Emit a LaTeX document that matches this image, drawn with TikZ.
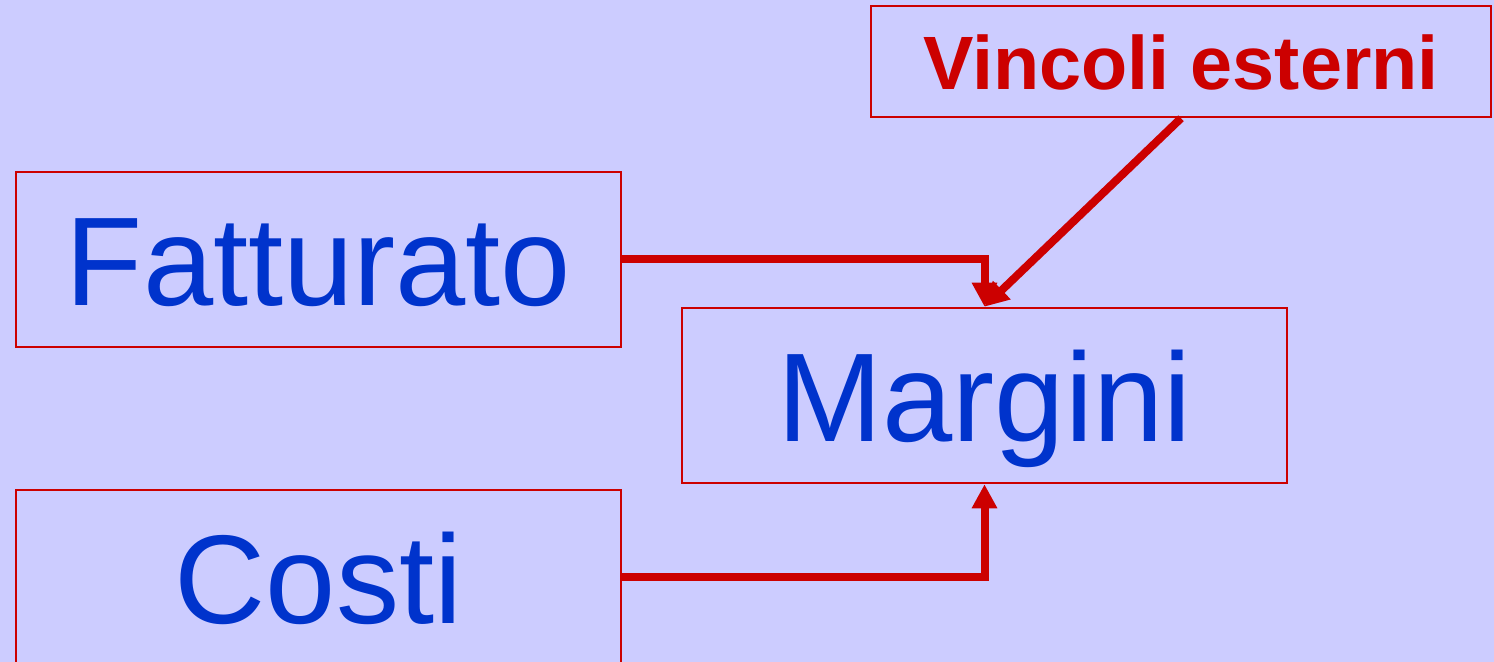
\documentclass[tikz,border=0pt]{standalone}
\usepackage{fontspec}
\setmainfont{Liberation Sans}
\usetikzlibrary{arrows.meta}
\definecolor{bg}{HTML}{CCCCFF}
\definecolor{rd}{HTML}{CC0000}
\definecolor{bl}{HTML}{0033CC}
\tikzset{
  box/.style={draw=rd, line width=0.7pt, inner sep=0pt, minimum width=6.05cm, minimum height=1.75cm, text height=0.92cm, text depth=0pt, text=bl, font=\fontsize{35.9}{40}\selectfont},
  conn/.style={draw=rd, line width=0.08cm, -{Triangle[width=0.24cm,length=0.24cm]}}
}
\begin{document}
\begin{tikzpicture}[x=0.01cm,y=-0.01cm]
\fill[bg] (0,0) rectangle (1494,662);
\useasboundingbox (0,0) rectangle (1494,662);
\node[box] (fat) at (318.5,259.5) {Fatturato};
\node[box] (mar) at (984.5,395.5) {Margini};
\node[box] (cos) at (318.5,577.5) {Costi};
\node[draw=rd, line width=0.7pt, inner sep=0pt, minimum width=6.2cm, minimum height=1.11cm, text height=0.55cm, text depth=0pt, text=rd, font=\fontsize{21.5}{26}\selectfont\bfseries] (vin) at (1181,61.5) {Vincoli esterni};
\draw[conn] (fat.east) -| (mar.north);
\draw[conn] (cos.east) -| (mar.south);
\draw[conn] (vin.south) -- (mar.north);
\end{tikzpicture}
\end{document}
